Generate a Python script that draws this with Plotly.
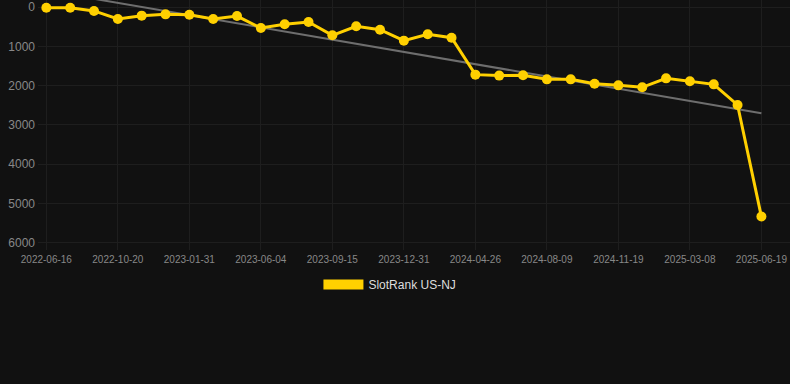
import numpy as np
import plotly.graph_objects as go

dates = [
    "2022-06-16", "2022-07-28", "2022-09-08", "2022-10-20", "2022-11-23", "2022-12-28",
    "2023-01-31", "2023-03-06", "2023-04-30", "2023-06-04", "2023-07-08", "2023-08-11",
    "2023-09-15", "2023-10-27", "2023-11-29", "2023-12-31", "2024-02-14", "2024-03-21",
    "2024-04-26", "2024-05-31", "2024-07-05", "2024-08-09", "2024-09-13", "2024-10-16",
    "2024-11-19", "2024-12-27", "2025-02-01", "2025-03-08", "2025-04-11", "2025-05-16",
    "2025-06-19",
]
ranks = [
    20, 20, 100, 305, 220, 187, 195, 305, 230, 535, 440, 380,
    720, 490, 577, 856, 695, 780, 1720, 1745, 1737, 1840, 1840, 1950,
    1993, 2043, 1815, 1890, 1967, 2492, 5330,
]
tick_labels = dates[::3]
series_name = "SlotRank US-NJ"

idx = np.arange(len(ranks))
slope, intercept = np.polyfit(idx, ranks, 1)
trend = slope * idx + intercept

YELLOW = "#FFD000"
BG = "#111111"

fig = go.Figure()
fig.add_trace(go.Scatter(
    x=dates, y=trend, mode="lines",
    line=dict(color="#6e6e6e", width=2),
    showlegend=False, hoverinfo="skip",
))
fig.add_trace(go.Scatter(
    x=dates, y=ranks, mode="lines+markers",
    line=dict(color=YELLOW, width=3),
    marker=dict(color=YELLOW, size=10),
    showlegend=False,
))
fig.add_trace(go.Scatter(
    x=[None], y=[None], mode="lines",
    line=dict(color=YELLOW, width=10),
    name=series_name, showlegend=True,
))

fig.update_layout(
    width=790, height=384,
    paper_bgcolor=BG, plot_bgcolor=BG,
    margin=dict(l=38, r=0, t=0, b=134),
    font=dict(family="Arial, Liberation Sans, sans-serif", color="#888888"),
    legend=dict(
        orientation="h", x=0.468, xanchor="center", y=-0.08, yanchor="top",
        font=dict(size=12, color="#dddddd"), itemwidth=40,
        bgcolor="rgba(0,0,0,0)",
    ),
    xaxis=dict(
        type="category",
        categoryorder="array", categoryarray=dates,
        range=[-0.35, 31.2],
        tickmode="array", tickvals=tick_labels, ticktext=tick_labels,
        showgrid=True, gridcolor="#1e1e1e", gridwidth=1,
        zeroline=False, showline=False,
        tickfont=dict(size=10, color="#888888"),
        ticks="", ticklabelstandoff=2,
    ),
    yaxis=dict(
        range=[6180, -178],
        tickmode="array", tickvals=[0, 1000, 2000, 3000, 4000, 5000, 6000],
        showgrid=True, gridcolor="#1e1e1e", gridwidth=1,
        zeroline=False, showline=False,
        tickfont=dict(size=12, color="#888888"),
        ticks="", ticklabelstandoff=2,
    ),
)

fig.write_html(
    "out.html",
    config={"displayModeBar": False},
    post_script="document.body.style.margin='0';document.body.style.background='#111111';document.body.style.overflow='hidden';",
)
